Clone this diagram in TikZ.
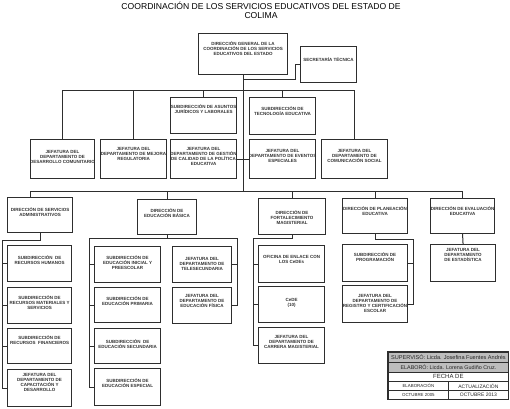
\documentclass[tikz,border=0pt]{standalone}
\usepackage{fontspec}
\setmainfont{Liberation Sans}
\definecolor{linec}{HTML}{2E2E2E}
\definecolor{cellgray}{HTML}{BDBDBD}
\newcommand{\orgbox}[7]{%
  \node[boxst, minimum width=#4pt, minimum height=#5pt] (#1) at (#2,#3) {};
  \node[txt] at ([yshift=-#6pt]#1.north) {#7};}
\begin{document}
\begin{tikzpicture}[x=1pt,y=-1pt,
  boxst/.style={draw=linec, line width=1.1pt, fill=white, inner sep=0pt, anchor=north west},
  txt/.style={font=\fontsize{4.5}{5}\selectfont\bfseries, align=center, inner sep=0pt, anchor=north, text=black!80},
  conn/.style={draw=linec, line width=1pt},
  cell/.style={draw=linec, line width=0.8pt, inner sep=0pt, anchor=north west, text=black!85},
  ttl/.style={font=\fontsize{8.6}{8.8}\selectfont, align=center, inner sep=0pt}]
\useasboundingbox (0,0) rectangle (510,408);
\fill[white] (0,0) rectangle (510,408);

% title
\node[ttl] (title) at (261,10) {COORDINACIÓN DE LOS SERVICIOS EDUCATIVOS DEL ESTADO DE\\COLIMA};

% top level
\orgbox{dg}{198}{33}{89}{41}{8}{DIRECCIÓN GENERAL DE LA\\COORDINACIÓN DE LOS SERVICIOS\\EDUCATIVOS DEL ESTADO}
\orgbox{sec}{300}{46}{56}{36}{11}{SECRETARÍA TÉCNICA}

% second row
\orgbox{jur}{170}{97}{66}{36}{7}{SUBDIRECCIÓN DE ASUNTOS\\JURÍDICOS Y LABORALES}
\orgbox{tec}{249}{97}{66}{37}{9}{SUBDIRECCIÓN DE\\TECNOLOGÍA EDUCATIVA}
\orgbox{desc}{30}{139}{64}{39}{11}{JEFATURA DEL\\DEPARTAMENTO DE\\DESARROLLO COMUNITARIO}
\orgbox{mej}{100}{139}{66}{39}{8}{JEFATURA DEL\\DEPARTAMENTO DE MEJORA\\REGULATORIA}
\orgbox{gest}{170}{139}{66}{39}{8}{JEFATURA DEL\\DEPARTAMENTO DE GESTIÓN\\DE CALIDAD DE LA POLÍTICA\\EDUCATIVA}
\orgbox{event}{249}{139}{66}{39}{10}{JEFATURA DEL\\DEPARTAMENTO DE EVENTOS\\ESPECIALES}
\orgbox{comsoc}{321}{139}{66}{39}{10}{JEFATURA DEL\\DEPARTAMENTO DE\\COMUNICACIÓN SOCIAL}

% directions
\orgbox{adm}{7}{197}{65}{35}{10}{DIRECCIÓN DE SERVICIOS\\ADMINISTRATIVOS}
\orgbox{eb}{137}{199}{59}{35}{9}{DIRECCIÓN DE\\EDUCACIÓN BÁSICA}
\orgbox{fm}{258}{198}{67}{36}{12}{DIRECCIÓN DE\\FORTALECIMIENTO\\MAGISTERIAL}
\orgbox{pl}{342}{198}{65}{35}{8}{DIRECCIÓN DE PLANEACIÓN\\EDUCATIVA}
\orgbox{ev}{430}{198}{64}{35}{8}{DIRECCIÓN DE EVALUACIÓN\\EDUCATIVA}

% administrative children
\orgbox{rh}{7}{245}{64}{36}{10}{SUBDIRECCIÓN \ DE\\RECURSOS HUMANOS}
\orgbox{rm}{7}{287}{64}{36}{8}{SUBDIRECCIÓN DE\\RECURSOS MATERIALES Y\\SERVICIOS}
\orgbox{rf}{7}{328}{64}{35}{7}{SUBDIRECCIÓN DE\\RECURSOS \ FINANCIEROS}
\orgbox{cap}{7}{369}{64}{37}{4}{JEFATURA DEL\\DEPARTAMENTO DE\\CAPACITACIÓN Y\\DESARROLLO}

% basic education children
\orgbox{ini}{94}{246}{66}{36}{9}{SUBDIRECCIÓN DE\\EDUCACIÓN INICIAL Y\\PREESCOLAR}
\orgbox{pri}{94}{287}{66}{35}{9}{SUBDIRECCIÓN DE\\EDUCACIÓN PRIMARIA}
\orgbox{sgd}{94}{328}{66}{35}{11}{SUBDIRECCIÓN \ DE\\EDUCACIÓN SECUNDARIA}
\orgbox{esp}{94}{368}{66}{37}{10}{SUBDIRECCIÓN DE\\EDUCACIÓN ESPECIAL}
\orgbox{tel}{172}{246}{59}{36}{11}{JEFATURA DEL\\DEPARTAMENTO DE\\TELESECUNDARIA}
\orgbox{fis}{172}{287}{59}{36}{7}{JEFATURA DEL\\DEPARTAMENTO DE\\EDUCACIÓN FÍSICA}

% teacher development children
\orgbox{enl}{258}{245}{66}{37}{10}{OFICINA DE ENLACE CON\\LOS CeDEs}
\orgbox{cede}{258}{286}{66}{36}{12}{CeDE\\(10)}
\orgbox{carr}{258}{327}{66}{36}{8}{JEFATURA DEL\\DEPARTAMENTO DE\\CARRERA MAGISTERIAL}

% planning children
\orgbox{prog}{342}{244}{65}{37}{8}{SUBDIRECCIÓN DE\\PROGRAMACIÓN}
\orgbox{reg}{342}{285}{65}{37}{9}{JEFATURA DEL\\DEPARTAMENTO DE\\REGISTRO Y CERTIFICACIÓN\\ESCOLAR}

% evaluation child
\orgbox{est}{430}{244}{65}{37}{4}{JEFATURA DEL\\DEPARTAMENTO\\DE ESTADÍSTICA}

% ---------- connectors ----------
\coordinate (k1) at (295,79);
\coordinate (b1) at (0,90);
\coordinate (b2) at (0,191);
\coordinate (a1) at (30,191);
\draw[conn] (sec.west) -| (k1) -- (k1 -| dg.south);
\draw[conn] (dg.south) -- (dg.south |- b2);
\draw[conn] (desc.north) |- (b1 -| comsoc.north) -- (comsoc.north);
\foreach \n in {mej,jur,tec} \draw[conn] (\n.north) -- (\n.north |- b1);
\draw[conn] (gest.east) -- (gest.east -| dg.south);
\draw[conn] (event.west) -- (event.west -| dg.south);

\draw[conn] (a1 |- adm.north) -- (a1) -- (a1 -| ev.north) -- (ev.north);
\foreach \n in {eb,fm,pl} \draw[conn] (\n.north) -- (\n.north |- b2);

\coordinate (la) at (2,240);
\draw[conn] (adm.south) |- (la) |- (cap.west);
\foreach \n in {rh,rm,rf} \draw[conn] (\n.west) -- (\n.west -| la);

\coordinate (lb) at (89,238);
\coordinate (rb) at (237,238);
\draw[conn] (eb.south) -- (eb.south |- lb);
\draw[conn] (esp.west) -| (lb) -- (rb) |- (fis.east);
\foreach \n in {ini,pri,sgd} \draw[conn] (\n.west) -- (\n.west -| lb);
\draw[conn] (tel.east) -- (tel.east -| rb);

\coordinate (lc) at (253,238);
\draw[conn] (fm.south) |- (lc) |- (carr.west);
\foreach \n in {enl,cede} \draw[conn] (\n.west) -- (\n.west -| lc);

\coordinate (ld) at (413,239);
\draw[conn] (pl.south) |- (ld) |- (reg.east);
\draw[conn] (prog.east) -- (prog.east -| ld);

\draw[conn] (ev.south) -- (est.north);

% ---------- table ----------
\node[cell, fill=cellgray, minimum width=120pt, minimum height=10pt, font=\fontsize{5.6}{6}\selectfont] (sup) at (388,352) {SUPERVISÓ: Licda. Josefina Fuentes Andrés};
\node[cell, fill=cellgray, minimum width=120pt, minimum height=10pt, font=\fontsize{5.4}{6}\selectfont] (elab) at (388,362) {ELABORÓ: Licda. Lorena Gudiño Cruz.};
\node[cell, fill=white, minimum width=120pt, minimum height=9pt, font=\fontsize{6}{6}\selectfont] (fecha) at (388,372) {FECHA DE};
\node[cell, minimum width=60pt, minimum height=9pt, font=\fontsize{4.4}{5}\selectfont] (ce) at (388,381) {ELABORACIÓN};
\node[cell, minimum width=60pt, minimum height=9pt, font=\fontsize{5}{5}\selectfont] (ca) at (448,381) {ACTUALIZACIÓN};
\node[cell, minimum width=60pt, minimum height=9pt, font=\fontsize{4.4}{5}\selectfont] (oe) at (388,390) {OCTUBRE 2005};
\node[cell, minimum width=60pt, minimum height=9pt, font=\fontsize{5}{5}\selectfont] (oa) at (448,390) {OCTUBRE 2013};
\draw[linec, line width=1.2pt] (sup.north west) rectangle (oa.south east);
\end{tikzpicture}
\end{document}
